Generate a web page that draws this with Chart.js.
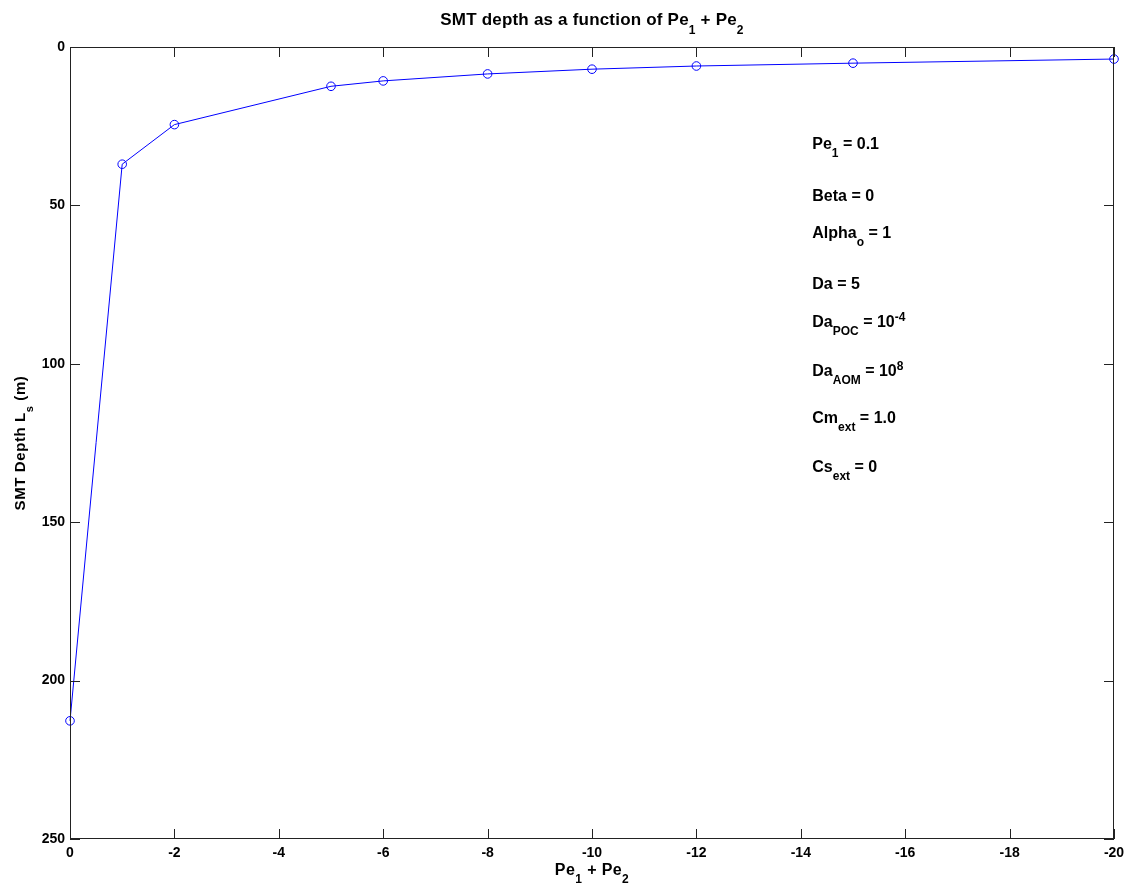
<!DOCTYPE html>
<html>
<head>
<meta charset="utf-8">
<script src="https://cdn.jsdelivr.net/npm/chart.js@4/dist/chart.umd.min.js"></script>
<style>
html,body{margin:0;padding:0;background:#fff;}
#wrap{width:1131px;height:888px;position:relative;}
</style>
</head>
<body>
<div id="wrap"><canvas id="c" width="1131" height="888"></canvas></div>
<script>
// ---- data ----
const peSum = [0, -1, -2, -5, -6, -8, -10, -12, -15, -20];
const smtDepth = [212.7, 37.0, 24.5, 12.4, 10.7, 8.5, 7.0, 6.0, 5.1, 3.8];
const xTickValues = [0, -2, -4, -6, -8, -10, -12, -14, -16, -18, -20];
const yTickValues = [0, 50, 100, 150, 200, 250];

const titleParts = [["SMT depth as a function of Pe", ""], ["1", "sub"], [" + Pe", ""], ["2", "sub"]];
const xLabelParts = [["Pe", ""], ["1", "sub"], [" + Pe", ""], ["2", "sub"]];
const yLabelParts = [["SMT Depth L", ""], ["s", "sub"], [" (m)", ""]];
const annotationLines = [
  [["Pe", ""], ["1", "sub"], [" = 0.1", ""]],
  [["Beta = 0", ""]],
  [["Alpha", ""], ["o", "sub"], [" = 1", ""]],
  [["Da = 5", ""]],
  [["Da", ""], ["POC", "sub"], [" = 10", ""], ["-4", "sup"]],
  [["Da", ""], ["AOM", "sub"], [" = 10", ""], ["8", "sup"]],
  [["Cm", ""], ["ext", "sub"], [" = 1.0", ""]],
  [["Cs", ""], ["ext", "sub"], [" = 0", ""]]
];

const FONT = '"Liberation Sans", Arial, Helvetica, sans-serif';

function drawRich(ctx, parts, x, y, size, align, spacing) {
  const subSize = Math.round(size * 0.72);
  ctx.letterSpacing = (spacing || 0) + 'px';
  let w = 0;
  const widths = parts.map(p => {
    ctx.font = 'bold ' + (p[1] ? subSize : size) + 'px ' + FONT;
    const m = ctx.measureText(p[0]).width;
    w += m;
    return m;
  });
  let cx = align === 'center' ? x - w / 2 : x;
  ctx.textBaseline = 'alphabetic';
  ctx.textAlign = 'left';
  parts.forEach((p, i) => {
    ctx.font = 'bold ' + (p[1] ? subSize : size) + 'px ' + FONT;
    let dy = 0;
    if (p[1] === 'sub') dy = size * 0.5;
    if (p[1] === 'sup') dy = -size * 0.38;
    ctx.fillText(p[0], cx, y + dy);
    cx += widths[i];
  });
  ctx.letterSpacing = '0px';
}

const framePlugin = {
  id: 'frame',
  afterDraw(chart) {
    const ctx = chart.ctx;
    const a = chart.chartArea;
    const xs = chart.scales.x, ys = chart.scales.y;
    ctx.save();
    ctx.strokeStyle = '#222';
    ctx.lineWidth = 1;
    ctx.strokeRect(a.left + 0.5, a.top + 0.5, a.right - a.left - 1, a.bottom - a.top - 1);
    ctx.beginPath();
    const tl = 10;
    xTickValues.forEach(v => {
      const px = Math.round(xs.getPixelForValue(v)) + 0.5;
      ctx.moveTo(px, a.bottom); ctx.lineTo(px, a.bottom - tl);
      ctx.moveTo(px, a.top); ctx.lineTo(px, a.top + tl);
    });
    yTickValues.forEach(v => {
      const py = Math.round(ys.getPixelForValue(v)) + 0.5;
      ctx.moveTo(a.left, py); ctx.lineTo(a.left + tl, py);
      ctx.moveTo(a.right, py); ctx.lineTo(a.right - tl, py);
    });
    ctx.stroke();

    ctx.fillStyle = '#000';
    const cxm = (a.left + a.right) / 2;
    drawRich(ctx, titleParts, cxm, 25, 17, 'center', 0.2);
    drawRich(ctx, xLabelParts, cxm, 875, 16, 'center', 0.4);
    ctx.save();
    ctx.translate(25, (a.top + a.bottom) / 2);
    ctx.rotate(-Math.PI / 2);
    drawRich(ctx, yLabelParts, 0, 0, 15, 'center', 0.6);
    ctx.restore();

    // annotations placed in data coordinates
    const annX = xs.getPixelForValue(-14.22);
    const annY = [32.2, 48.6, 60.3, 76.4, 88.4, 103.9, 118.7, 134.2];
    annotationLines.forEach((parts, i) => {
      drawRich(ctx, parts, annX, ys.getPixelForValue(annY[i]), 16, 'left', 0);
    });
    ctx.restore();
  }
};

new Chart(document.getElementById('c'), {
  type: 'line',
  data: {
    datasets: [{
      data: peSum.map((x, i) => ({ x: x, y: smtDepth[i] })),
      borderColor: '#0000ff',
      borderWidth: 1,
      pointRadius: 4.3,
      pointHoverRadius: 4.3,
      pointBorderColor: '#0000ff',
      pointBackgroundColor: 'rgba(0,0,0,0)',
      pointBorderWidth: 1,
      tension: 0,
      clip: false
    }]
  },
  options: {
    responsive: false,
    animation: false,
    events: [],
    layout: { padding: { top: 47, right: 17, left: 0, bottom: 0 } },
    plugins: { legend: { display: false }, tooltip: { enabled: false }, title: { display: false } },
    scales: {
      x: {
        type: 'linear',
        reverse: true,
        min: -20, max: 0,
        afterBuildTicks(s) { s.ticks = xTickValues.map(v => ({ value: v })); },
        afterFit(s) { s.height = 49; },
        grid: { display: false, drawTicks: false },
        border: { display: false },
        ticks: { color: '#000', padding: 6, maxRotation: 0, autoSkip: false,
                 font: { family: FONT, size: 14, weight: 'bold' } }
      },
      y: {
        type: 'linear',
        reverse: true,
        min: 0, max: 250,
        afterBuildTicks(s) { s.ticks = yTickValues.map(v => ({ value: v })); },
        afterFit(s) { s.width = 70; },
        grid: { display: false, drawTicks: false },
        border: { display: false },
        ticks: { color: '#000', padding: 5, autoSkip: false,
                 font: { family: FONT, size: 14, weight: 'bold' } }
      }
    }
  },
  plugins: [framePlugin]
});
</script>
</body>
</html>
